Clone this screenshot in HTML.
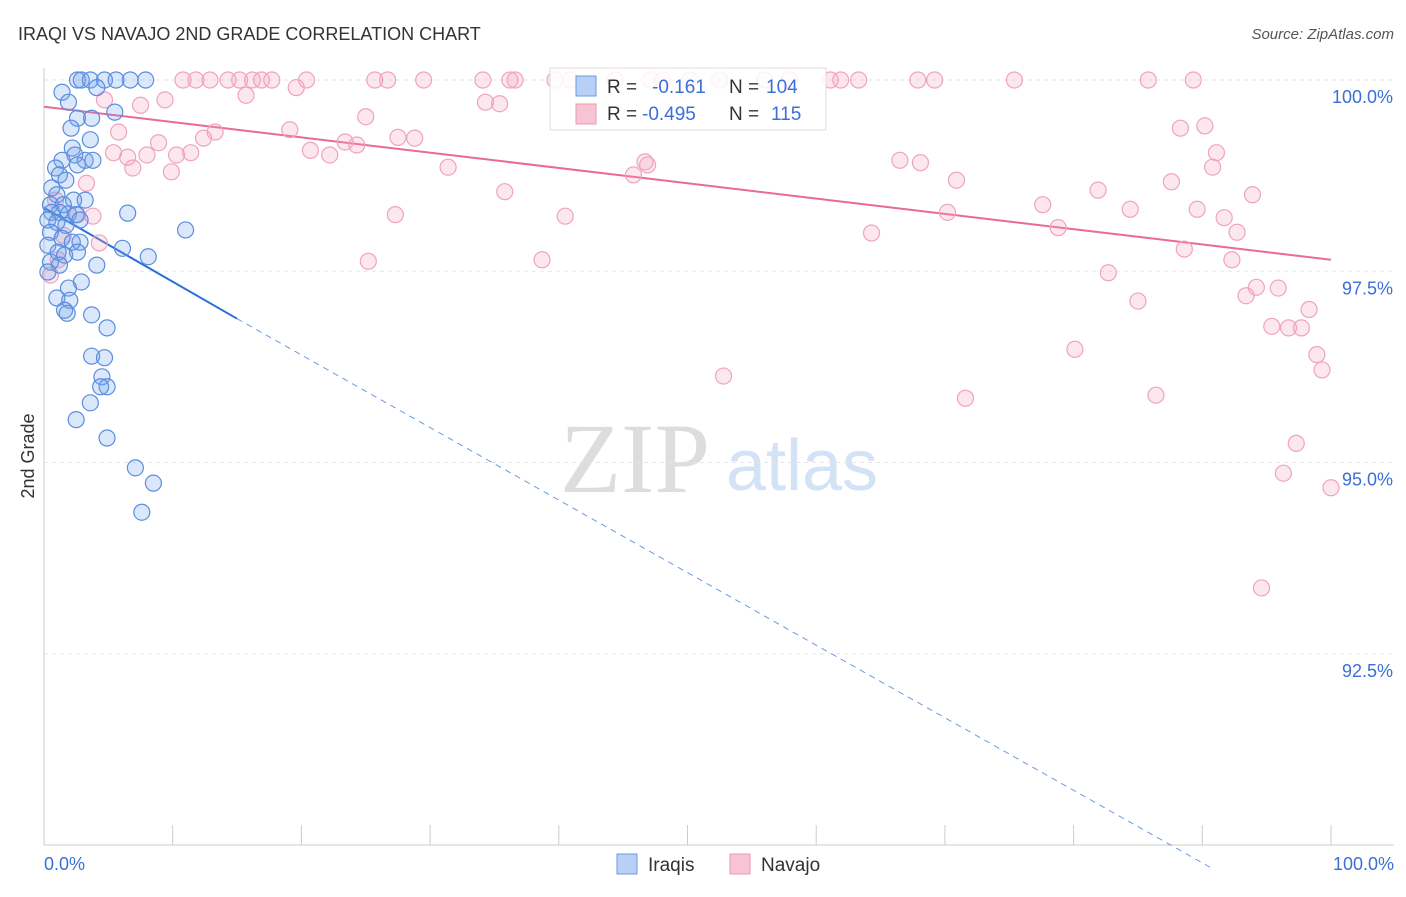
<!DOCTYPE html>
<html><head><meta charset="utf-8"><style>
body{margin:0;background:#fff;font-family:"Liberation Sans",sans-serif}
</style></head><body>
<svg id="c" width="1406" height="892" font-family="Liberation Sans, sans-serif" xmlns="http://www.w3.org/2000/svg">
<text x="18" y="40" font-size="18" fill="#333">IRAQI VS NAVAJO 2ND GRADE CORRELATION CHART</text>
<text x="1394" y="39" font-size="15" fill="#555" font-style="italic" text-anchor="end">Source: ZipAtlas.com</text>
<text x="34" y="456" font-size="18" fill="#333" transform="rotate(-90 34 456)" text-anchor="middle">2nd Grade</text>
<g><text x="635" y="492" font-size="100" fill="#ddd" style="font-family:'Liberation Serif',serif" text-anchor="middle">ZIP</text><text x="802" y="490" font-size="72" fill="#d4e2f5" text-anchor="middle">atlas</text></g>
<g id="grid"></g><g id="lines"></g><g id="pts"></g>
<g>
<rect x="550" y="68" width="276" height="62" fill="#fff" fill-opacity="0.85" stroke="#ddd"/>
<rect x="576" y="76" width="20" height="20" fill="#b8d0f5" stroke="#6b9be0"/>
<text x="607" y="93" font-size="19" fill="#333">R = </text><text x="652" y="93" font-size="19" fill="#3a6fd8">-0.161</text>
<text x="729" y="93" font-size="19" fill="#333">N = </text><text x="766" y="93" font-size="19" fill="#3a6fd8">104</text>
<rect x="576" y="104" width="20" height="20" fill="#f8c4d4" stroke="#eb9ab5"/>
<text x="607" y="120" font-size="19" fill="#333">R = </text><text x="642" y="120" font-size="19" fill="#3a6fd8">-0.495</text>
<text x="729" y="120" font-size="19" fill="#333">N = </text><text x="771" y="120" font-size="19" fill="#3a6fd8">115</text>
</g>
<g>
<rect x="617" y="854" width="20" height="20" fill="#b8d0f5" stroke="#6b9be0"/><text x="648" y="871" font-size="19" fill="#333">Iraqis</text>
<rect x="730" y="854" width="20" height="20" fill="#f8c4d4" stroke="#eb9ab5"/><text x="761" y="871" font-size="19" fill="#333">Navajo</text>
</g>
</svg>
<script>
const yTicks=[100,97.5,95,92.5];
const yTickLabels=["100.0%","97.5%","95.0%","92.5%"];
const xEndLabels=["0.0%","100.0%"];
const iraqX=[2.6,2.9,3.6,4.7,5.6,6.7,7.9,1.4,4.1,1.9,5.5,2.6,3.7,2.1,3.6,2.2,2.4,3.2,3.8,1.4,2.6,0.9,1.2,1.7,0.6,1.0,2.3,3.2,0.5,1.5,0.6,1.2,1.9,2.5,6.5,0.3,1.0,2.8,1.7,11.0,0.5,1.4,2.2,2.8,0.3,6.1,2.6,1.1,8.1,1.6,0.5,4.1,1.2,0.3,2.9,1.9,1.0,2.0,1.6,3.7,1.8,4.9,3.7,4.7,4.5,4.9,4.4,3.6,2.5,4.9,7.1,8.5,7.6];
const iraqY=[100,100,100,100,100,100,100,99.84,99.9,99.71,99.58,99.5,99.5,99.37,99.22,99.11,99.02,98.95,98.95,98.95,98.89,98.85,98.76,98.69,98.59,98.5,98.43,98.43,98.37,98.37,98.27,98.27,98.25,98.24,98.26,98.17,98.14,98.17,98.1,98.04,98.01,97.93,97.88,97.88,97.84,97.8,97.75,97.75,97.69,97.71,97.62,97.58,97.58,97.49,97.36,97.28,97.15,97.12,96.99,96.93,96.95,96.76,96.39,96.37,96.12,95.99,95.99,95.78,95.56,95.32,94.93,94.73,94.35];
const navX=[10.8,11.8,12.9,14.3,15.2,16.2,16.9,17.7,20.4,25.7,26.7,29.5,34.1,36.2,36.6,39.7,40.9,44.4,47.1,48.1,50.2,52.5,56.0,57.9,61.1,61.9,63.3,67.9,69.2,75.4,85.8,89.3,19.6,15.7,4.7,9.4,7.5,34.3,35.4,25.0,19.1,5.8,13.3,12.4,8.9,27.5,28.8,23.4,24.3,20.7,22.2,5.4,6.5,8.0,10.3,11.4,6.9,9.9,31.4,46.7,46.9,45.8,66.5,68.1,70.9,91.1,90.8,88.3,90.2,3.3,35.8,81.9,87.6,93.9,77.6,84.4,89.6,70.2,27.3,40.5,3.8,2.6,91.7,92.7,78.8,64.3,4.3,88.6,92.3,25.2,38.7,82.7,94.2,95.9,93.4,85.0,98.3,95.4,96.7,97.7,80.1,98.9,99.3,52.8,71.6,86.4,97.3,96.3,100,94.6,0.9,1.5,0.5,1.1];
const navY=[100,100,100,100,100,100,100,100,100,100,100,100,100,100,100,100,100,100,100,100,100,100,100,100,100,100,100,100,100,100,100,100,99.9,99.8,99.74,99.74,99.67,99.71,99.69,99.52,99.35,99.32,99.32,99.24,99.18,99.25,99.24,99.19,99.15,99.08,99.02,99.05,98.99,99.02,99.02,99.05,98.85,98.8,98.86,98.93,98.89,98.76,98.95,98.92,98.69,99.05,98.86,99.37,99.4,98.65,98.54,98.56,98.67,98.5,98.37,98.31,98.31,98.27,98.24,98.22,98.22,98.24,98.2,98.01,98.07,98.0,97.87,97.79,97.65,97.63,97.65,97.48,97.29,97.28,97.18,97.11,97.0,96.78,96.76,96.76,96.48,96.41,96.21,96.13,95.84,95.88,95.25,94.86,94.67,93.36,98.43,97.97,97.45,97.65];
const iraqTrend=[[0,98.33],[15,96.88],[90.7,89.7]];
const navTrend=[[0,99.65],[100,97.65]];
const NS="http://www.w3.org/2000/svg";
const X=v=>44+v*12.87, Y=v=>80+(100-v)*76.5;
function mk(tag,at,parent){const e=document.createElementNS(NS,tag);for(const k in at)e.setAttribute(k,at[k]);parent.appendChild(e);return e;}
const g=document.getElementById('grid');
yTicks.forEach((t,i)=>{
 const l=mk('line',{x1:44,x2:1394,y1:Y(t),y2:Y(t),stroke:'#e6e6e6','stroke-dasharray':'4 4'},g);
 
 
 const tx=mk('text',{x:1393,y:Y(t)+23,'font-size':18,fill:'#3a6fd8','text-anchor':'end'},g);
 tx.textContent=yTickLabels[i];
 
 
});
const ax=mk('line',{x1:44,x2:44,y1:68,y2:845,stroke:'#ccc'},g);


const bx=mk('line',{x1:44,x2:1394,y1:845,y2:845,stroke:'#ccc'},g);


for(let i=1;i<=10;i++){const t=mk('line',{x1:X(i*10),x2:X(i*10),y1:825,y2:845,stroke:'#ccc'},g);
 
 }
[[0,'start',44],[1,'end',1394]].forEach(([i,a,x])=>{const t=mk('text',{x:x,y:870,'font-size':18,fill:'#3a6fd8','text-anchor':a},g);t.textContent=xEndLabels[i];
 
 });
const P=document.getElementById('pts');
function pts(xs,ys,fill,stroke,name){xs.forEach((x,i)=>{const c=mk('circle',{cx:X(x),cy:Y(ys[i]),r:8,fill:fill,stroke:stroke,'stroke-width':1.2},P);
 
 });}
pts(navX,navY,'rgba(244,160,190,0.25)','#f0a3bd','navajo-point');
pts(iraqX,iraqY,'rgba(110,160,235,0.25)','#5a8ede','iraqi-point');
const L=document.getElementById('lines');
let a=mk('line',{x1:X(iraqTrend[1][0]),y1:Y(iraqTrend[1][1]),x2:X(iraqTrend[2][0]),y2:Y(iraqTrend[2][1]),stroke:'#6a9be0','stroke-dasharray':'6 5','stroke-width':1},L);


a=mk('line',{x1:X(iraqTrend[0][0]),y1:Y(iraqTrend[0][1]),x2:X(iraqTrend[1][0]),y2:Y(iraqTrend[1][1]),stroke:'#2a6fd6','stroke-width':2},L);


a=mk('line',{x1:X(navTrend[0][0]),y1:Y(navTrend[0][1]),x2:X(navTrend[1][0]),y2:Y(navTrend[1][1]),stroke:'#e8699a','stroke-width':2},L);


</script>
</body></html>
